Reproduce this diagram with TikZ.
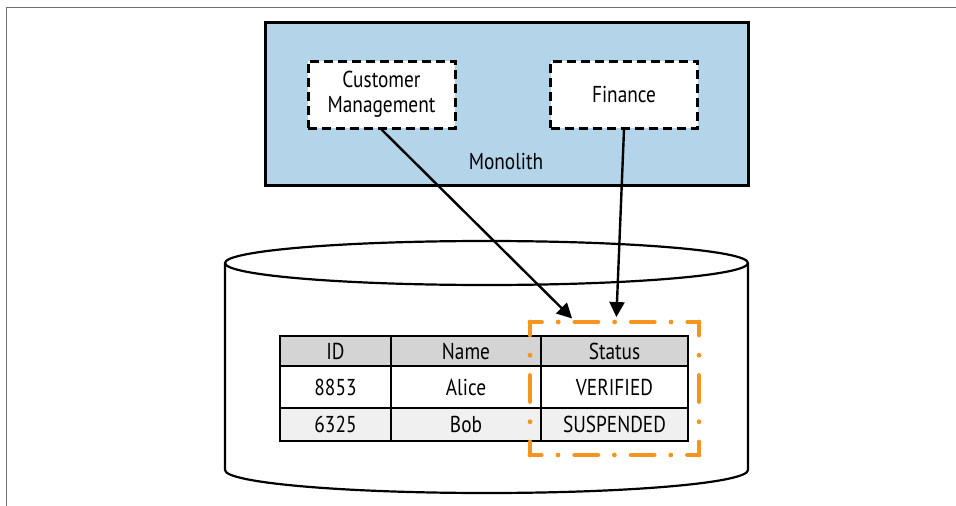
\documentclass[tikz,border=0pt]{standalone}
\usepackage{fontspec}
\setmainfont{PT Sans}[FakeStretch=0.84]
\usetikzlibrary{arrows.meta,positioning,calc}
\definecolor{monoblue}{HTML}{B3D4E9}
\definecolor{scopeorange}{HTML}{F7941D}
\definecolor{headgray}{HTML}{D4D4D4}
\definecolor{rowgray}{HTML}{F0F0F0}
\definecolor{framegray}{HTML}{707070}
\tikzset{
  box/.style={draw=black,align=center,inner sep=0pt,
              font=\fontsize{23}{25}\selectfont},
  module/.style={box,fill=white,dash pattern=on 9pt off 5pt,line width=3pt,
                 minimum width=147pt,minimum height=67pt},
  cell/.style={box,line width=2.7pt},
  access/.style={-{Triangle[length=15pt,width=15pt]},draw=black,
                 line width=2.4pt,shorten >=5pt}
}
\begin{document}
\begin{tikzpicture}[
  x=1pt,y=-1pt,
  label/.style={font=\fontsize{23}{25}\selectfont,inner sep=0pt},
  dbline/.style={draw=black,line width=2.2pt},
  scopelong/.style={draw=scopeorange,line width=4.8pt,line cap=round,
                    dash pattern=on 23pt off 16.7pt on 0pt off 16.7pt,
                    dash phase=11.5pt},
  scopeshort/.style={draw=scopeorange,line width=4.8pt,line cap=round,
                     dash pattern=on 26pt off 20.25pt on 0pt off 20.25pt,
                     dash phase=13pt}
]
  \useasboundingbox (0,0) rectangle (956,506);
  \draw[framegray,line width=1pt] (6,506) -- (6,7) -- (956,7);

  \node[box,fill=monoblue,line width=3pt,minimum width=483pt,
        minimum height=163pt] (monolith) at (506.5,103.5) {};
  \node[module] (customer) at (381.5,94.5) {Customer\\Management};
  \node[module] (finance) at (624,94.5) {Finance};
  \node[label] (monolabel) at (506,161) {Monolith};

  % database
  \draw[dbline,fill=white] (225,263) -- (225,470)
    arc[start angle=180,end angle=360,x radius=261.5pt,y radius=23pt]
    -- (748,263)
    arc[start angle=0,end angle=180,x radius=261.5pt,y radius=22pt] -- cycle;
  \draw[dbline] (225,263)
    arc[start angle=180,end angle=360,x radius=261.5pt,y radius=22pt];

  \foreach \row/\y/\h/\shade/\a/\b/\c in
    {head/351/30pt/headgray/ID/Name/Status,
     one/387/42pt/white/8853/Alice/VERIFIED,
     two/424.5/33pt/rowgray/6325/Bob/SUSPENDED} {
    \node[cell,fill=\shade,minimum width=111pt,minimum height=\h]
      (id-\row) at (335.5,\y) {\a};
    \node[cell,fill=\shade,minimum width=150pt,minimum height=\h]
      (name-\row) at (466,\y) {\b};
    \node[cell,fill=\shade,minimum width=147pt,minimum height=\h]
      (status-\row) at (614.5,\y) {\c};
  }

  % status column scope
  \node[minimum width=169pt,minimum height=133pt,inner sep=0pt,outer sep=0pt]
    (statusscope) at (614.5,388.5) {};
  \draw[scopelong] (statusscope.north west) -- (statusscope.north east);
  \draw[scopelong] (statusscope.south east) -- (statusscope.south west);
  \draw[scopeshort] (statusscope.north east) -- (statusscope.south east);
  \draw[scopeshort] (statusscope.south west) -- (statusscope.north west);

  \draw[access] (customer.south)
    -- ($(statusscope.north west)!.27!(statusscope.north east)$);
  \draw[access] (finance.south)
    -- ($(statusscope.north west)!.51!(statusscope.north east)$);
\end{tikzpicture}
\end{document}
